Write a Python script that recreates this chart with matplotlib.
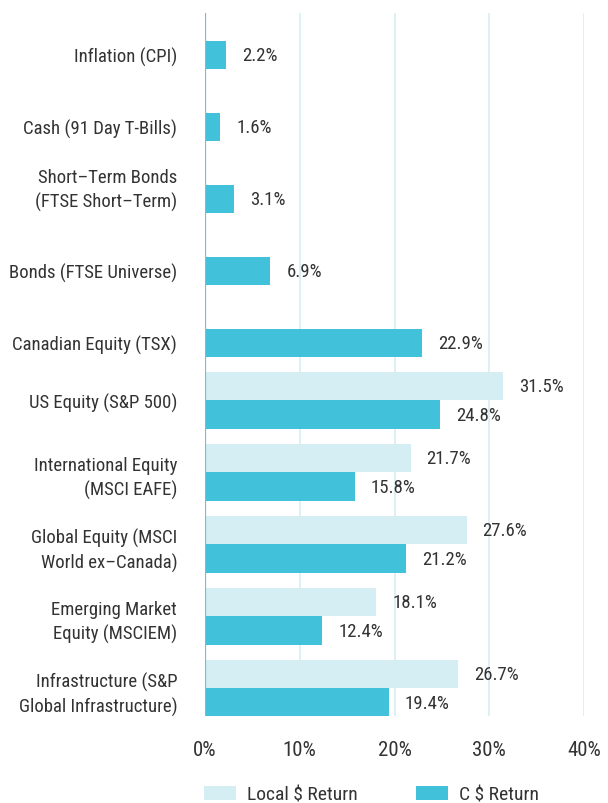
import matplotlib
matplotlib.use("Agg")
import matplotlib.pyplot as plt
from matplotlib.patches import Patch
from matplotlib import font_manager
import numpy as np

names = {f.name for f in font_manager.fontManager.ttflist}
fam = [n for n in ["Roboto Condensed", "Liberation Sans Narrow", "Open Sans Condensed"] if n in names]
plt.rcParams['font.family'] = fam + ['DejaVu Sans']

categories = [
    "Inflation (CPI)",
    "Cash (91 Day T-Bills)",
    "Short–Term Bonds\n(FTSE Short–Term)",
    "Bonds (FTSE Universe)",
    "Canadian Equity (TSX)",
    "US Equity (S&P 500)",
    "International Equity\n(MSCI EAFE)",
    "Global Equity (MSCI\nWorld ex–Canada)",
    "Emerging Market\nEquity (MSCIEM)",
    "Infrastructure (S&P\nGlobal Infrastructure)",
]
local_return = [None, None, None, None, None, 31.5, 21.7, 27.6, 18.1, 26.7]
cad_return = [2.2, 1.6, 3.1, 6.9, 22.9, 24.8, 15.8, 21.2, 12.4, 19.4]
x_ticks = [0, 10, 20, 30, 40]
x_tick_labels = ["0%", "10%", "20%", "30%", "40%"]
legend_labels = ["Local \\$ Return", "C \\$ Return"]

c_local = "#D5EEF4"
c_cad = "#42C1DB"
txt = "#333333"
fs_cat = 13.5
fs_val = 13.5
fs_tick = 15
fs_leg = 14

fig = plt.figure(figsize=(6.08, 8.04), dpi=100)
ax = fig.add_axes([205/608, 1-717/804, (584-205)/608, (717-14)/804])

bh = 0.389
off = bh / 2
y = np.arange(len(categories))

for i in range(len(categories)):
    if local_return[i] is not None:
        ax.barh(y[i] - off, local_return[i], height=bh, color=c_local, zorder=2)
        ax.annotate(f"{local_return[i]:.1f}%", (local_return[i], y[i] - off),
                    xytext=(11.5, 0), textcoords="offset points", va="center",
                    ha="left", fontsize=fs_val, color=txt)
    ax.barh(y[i] + off, cad_return[i], height=bh, color=c_cad, zorder=2)
    ax.annotate(f"{cad_return[i]:.1f}%", (cad_return[i], y[i] + off),
                xytext=(11.5, 0), textcoords="offset points", va="center",
                ha="left", fontsize=fs_val, color=txt)

tick_pos = []
for i, lab in enumerate(categories):
    if local_return[i] is None and "\n" not in lab:
        tick_pos.append(y[i] + off)
    else:
        tick_pos.append(y[i])
ax.set_yticks(tick_pos)
ax.set_yticklabels(categories, fontsize=fs_cat, color=txt, ha="right",
                   multialignment="right", linespacing=1.4)
ax.tick_params(axis="y", length=0, pad=20)

ax.set_xlim(0, 40)
ax.set_ylim(len(categories) - 1 + 0.382, -0.382)
ax.set_xticks(x_ticks)
ax.set_xticklabels(x_tick_labels, fontsize=fs_tick, color=txt)
ax.tick_params(axis="x", length=0, pad=17)

for s in ax.spines.values():
    s.set_visible(False)
for xv in x_ticks[1:]:
    ax.axvline(xv, color="#DCEFF5", lw=1.3, zorder=1)
ax.axvline(0, color="#5EC6DD", lw=1.6, zorder=3)

handles = [Patch(facecolor=c_local, edgecolor="none"), Patch(facecolor=c_cad, edgecolor="none")]
fig.legend(handles, legend_labels, loc="center left", bbox_to_anchor=(204/608, 1-796/804),
           ncol=2, frameon=False, fontsize=fs_leg, handlelength=1.65, handleheight=0.75,
           handletextpad=0.55, columnspacing=3.0, borderpad=0, borderaxespad=0,
           labelcolor=txt)

fig.savefig("out.png", dpi=100)
